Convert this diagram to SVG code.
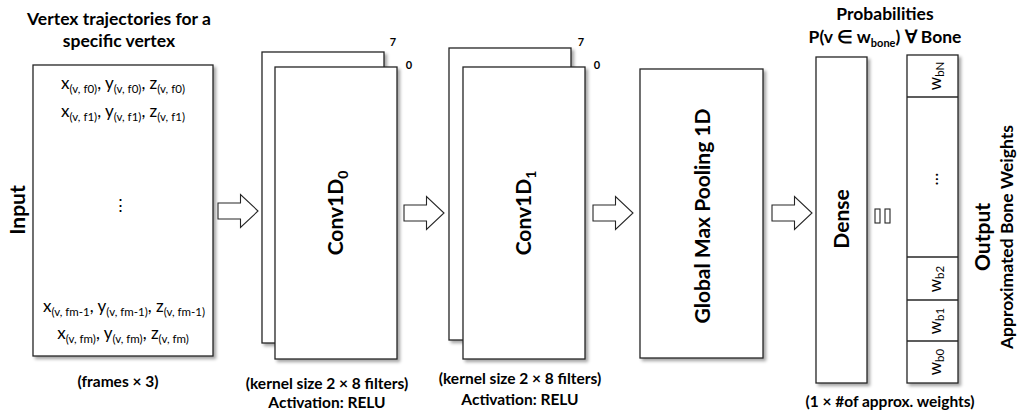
<svg xmlns="http://www.w3.org/2000/svg" width="1019" height="414" viewBox="0 0 1019 414">
<style>
text{font-family:Lato,"Liberation Sans",sans-serif;fill:#000}
.b{font-weight:bold}
.box{fill:#fff;stroke:#262626;stroke-width:1.3}
.arr{fill:#fff;stroke:#262626;stroke-width:1.1}
.t{font-size:17px}
.s{font-size:11.5px}
.w{font-size:17px}
.ws{font-size:11.5px}
.ttl{font-size:17.5px;font-weight:bold}
.lbl{font-size:15.5px;font-weight:bold}
.big{font-size:21px;font-weight:bold}
.num{font-size:11px;font-weight:bold}
.cell{fill:none;stroke:#262626;stroke-width:1.3}
</style>
<defs>
<filter id="sh" x="-10%" y="-10%" width="130%" height="130%">
<feDropShadow dx="2.5" dy="2.5" stdDeviation="1.5" flood-color="#000" flood-opacity="0.35"/>
</filter>
<path id="arrow" d="M0,-8 H22.5 V-16.5 L40,0 L22.5,16.5 V8 H0 Z"/>
</defs>

<g id="input">
<text class="ttl" x="119" y="25" text-anchor="middle">Vertex trajectories for a</text>
<text class="ttl" x="119" y="47" text-anchor="middle">specific vertex</text>
<rect class="box" x="33" y="65" width="180" height="291" filter="url(#sh)"/>
<text class="t" x="123" y="89" text-anchor="middle">x<tspan class="s" dy="4">(v, f0)</tspan><tspan dy="-4">, y</tspan><tspan class="s" dy="4">(v, f0)</tspan><tspan dy="-4">, z</tspan><tspan class="s" dy="4">(v, f0)</tspan></text>
<text class="t" x="123" y="117" text-anchor="middle">x<tspan class="s" dy="4">(v, f1)</tspan><tspan dy="-4">, y</tspan><tspan class="s" dy="4">(v, f1)</tspan><tspan dy="-4">, z</tspan><tspan class="s" dy="4">(v, f1)</tspan></text>
<text class="t" x="120" y="211" text-anchor="middle">⋮</text>
<text class="t" x="124" y="312" text-anchor="middle">x<tspan class="s" dy="4">(v, fm-1</tspan><tspan dy="-4">, y</tspan><tspan class="s" dy="4">(v, fm-1)</tspan><tspan dy="-4">, z</tspan><tspan class="s" dy="4">(v, fm-1)</tspan></text>
<text class="t" x="123" y="339" text-anchor="middle">x<tspan class="s" dy="4">(v, fm)</tspan><tspan dy="-4">, y</tspan><tspan class="s" dy="4">(v, fm)</tspan><tspan dy="-4">, z</tspan><tspan class="s" dy="4">(v, fm)</tspan></text>
<text class="big" transform="translate(25,210) rotate(-90)" text-anchor="middle">Input</text>
<text class="lbl" x="118" y="387" text-anchor="middle">(frames × 3)</text>
</g>

<g id="conv0">
<rect class="box" x="262" y="52" width="122" height="291" filter="url(#sh)"/>
<rect class="box" x="275" y="67" width="122" height="292" filter="url(#sh)"/>
<text class="num" x="393" y="46" text-anchor="middle">7</text>
<text class="num" x="409" y="69" text-anchor="middle">0</text>
<text class="big" transform="translate(343,213) rotate(-90)" text-anchor="middle">Conv1D<tspan font-size="14" dy="5">0</tspan></text>
<text class="lbl" x="327" y="389" text-anchor="middle">(kernel size 2 × 8 filters)</text>
<text class="lbl" x="327" y="408" text-anchor="middle">Activation: RELU</text>
</g>

<g id="conv1">
<rect class="box" x="449" y="48" width="122" height="292" filter="url(#sh)"/>
<rect class="box" x="463" y="67" width="122" height="292" filter="url(#sh)"/>
<text class="num" x="581" y="46" text-anchor="middle">7</text>
<text class="num" x="597" y="69" text-anchor="middle">0</text>
<text class="big" transform="translate(531,213) rotate(-90)" text-anchor="middle">Conv1D<tspan font-size="14" dy="5">1</tspan></text>
<text class="lbl" x="520" y="384" text-anchor="middle">(kernel size 2 × 8 filters)</text>
<text class="lbl" x="520" y="405" text-anchor="middle">Activation: RELU</text>
</g>

<g id="gmp">
<rect class="box" x="640" y="69" width="123" height="289" filter="url(#sh)"/>
<text class="big" font-size="20" transform="translate(710,216) rotate(-90)" text-anchor="middle">Global Max Pooling 1D</text>
</g>

<g id="dense">
<text class="ttl" x="885" y="20" text-anchor="middle">Probabilities</text>
<text class="ttl" font-size="16.5" x="885" y="43" text-anchor="middle">P(v ∈ w<tspan font-size="11" dy="4">bone</tspan><tspan dy="-4">) ∀ Bone</tspan></text>
<rect class="box" x="816" y="57" width="51" height="326" filter="url(#sh)"/>
<text class="big" transform="translate(849,219) rotate(-90)" text-anchor="middle">Dense</text>
<text class="lbl" x="890" y="407" text-anchor="middle">(1 × #of approx. weights)</text>
</g>

<g id="output">
<rect class="box" x="907" y="55" width="51" height="328" filter="url(#sh)"/>
<line class="cell" x1="907" y1="97" x2="958" y2="97"/>
<line class="cell" x1="907" y1="257" x2="958" y2="257"/>
<line class="cell" x1="907" y1="300" x2="958" y2="300"/>
<line class="cell" x1="907" y1="341" x2="958" y2="341"/>
<text class="w" transform="translate(941,76) rotate(-90)" text-anchor="middle">w<tspan class="ws" dy="3">bN</tspan></text>
<text class="w" transform="translate(938,179) rotate(-90)" text-anchor="middle">…</text>
<text class="w" transform="translate(941,279) rotate(-90)" text-anchor="middle">w<tspan class="ws" dy="3">b2</tspan></text>
<text class="w" transform="translate(941,321) rotate(-90)" text-anchor="middle">w<tspan class="ws" dy="3">b1</tspan></text>
<text class="w" transform="translate(941,362) rotate(-90)" text-anchor="middle">w<tspan class="ws" dy="3">b0</tspan></text>
<text class="big" transform="translate(990,237) rotate(-90)" text-anchor="middle">Output</text>
<text class="ttl" font-size="18.5" transform="translate(1013,237) rotate(-90)" text-anchor="middle">Approximated Bone Weights</text>
</g>

<g id="connectors">
<use href="#arrow" class="arr" transform="translate(218,211)"/>
<use href="#arrow" class="arr" transform="translate(404,213)"/>
<use href="#arrow" class="arr" transform="translate(593,213)"/>
<use href="#arrow" class="arr" transform="translate(772,213)"/>
<rect class="arr" x="875" y="209" width="5" height="14"/>
<rect class="arr" x="885" y="209" width="5" height="14"/>
</g>
</svg>
